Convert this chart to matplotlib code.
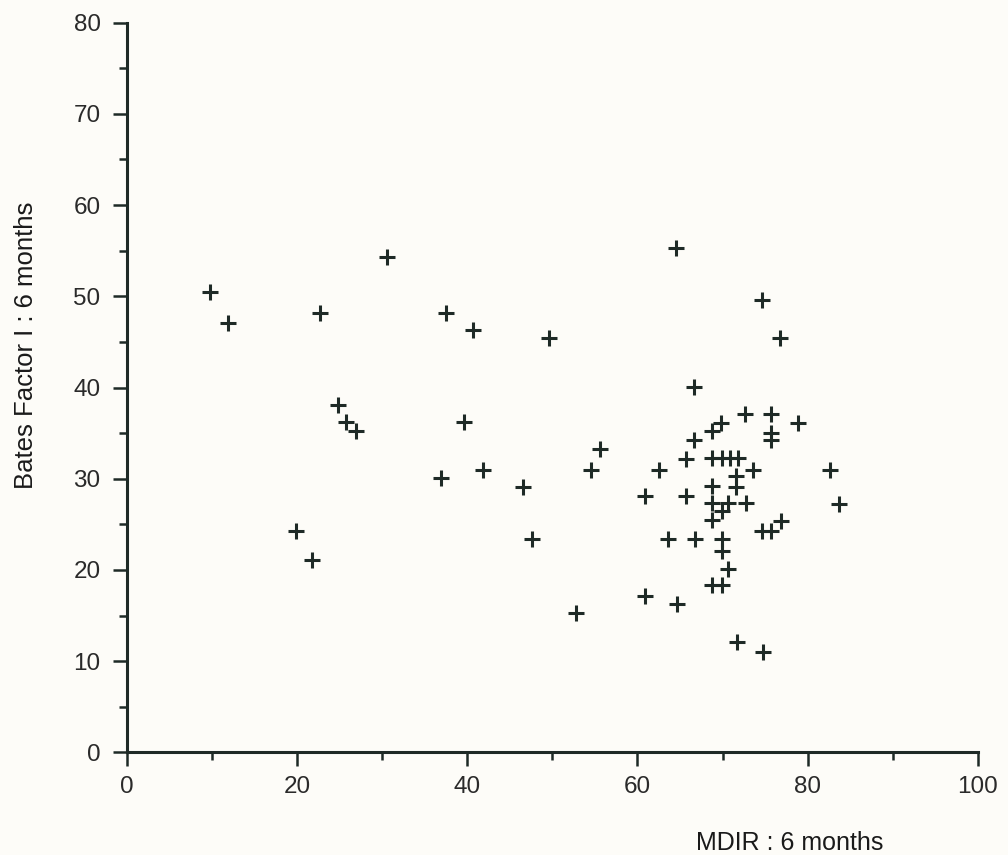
import matplotlib
matplotlib.use("Agg")
import matplotlib.pyplot as plt
from matplotlib.ticker import MultipleLocator

mdir = [9.8, 11.9, 22.7, 30.6, 37.5, 40.7, 49.6, 24.8, 25.7, 26.9,
        39.6, 55.6, 54.5, 41.8, 36.9, 46.6, 19.9, 21.8, 47.6, 52.8,
        64.5, 74.6, 76.7, 66.7, 72.6, 75.7, 78.9, 69.8, 68.8, 75.7,
        75.7, 66.7, 65.7, 68.8, 69.9, 70.9, 71.8, 62.5, 73.6, 82.6,
        71.6, 71.6, 68.8, 60.9, 65.7, 68.8, 70.7, 72.7, 83.7, 69.9,
        68.8, 74.6, 75.7, 76.9, 63.6, 66.8, 69.9, 69.9, 70.6, 68.8,
        69.9, 60.9, 64.7, 71.7, 74.8]
bates = [50.5, 47.1, 48.2, 54.3, 48.2, 46.3, 45.4, 38.1, 36.2, 35.2,
         36.2, 33.3, 31.0, 31.0, 30.1, 29.1, 24.3, 21.1, 23.4, 15.3,
         55.3, 49.6, 45.4, 40.1, 37.1, 37.1, 36.1, 36.1, 35.2, 35.0,
         34.3, 34.2, 32.2, 32.3, 32.3, 32.3, 32.3, 31.0, 31.0, 31.0,
         30.3, 29.1, 29.2, 28.1, 28.1, 27.3, 27.3, 27.3, 27.2, 26.5,
         25.5, 24.3, 24.3, 25.4, 23.4, 23.4, 23.4, 22.1, 20.1, 18.3,
         18.3, 17.2, 16.3, 12.1, 11.0]

xticks = [0, 20, 40, 60, 80, 100]
yticks = [0, 10, 20, 30, 40, 50, 60, 70, 80]

ink = "#1e2a26"
bg = "#fdfcf8"

plt.rcParams['font.family'] = ['Liberation Sans', 'DejaVu Sans']

fig = plt.figure(figsize=(10.08, 8.55), dpi=100, facecolor=bg)
ax = fig.add_axes([0.126, 0.120, 0.844, 0.8535])
ax.set_facecolor(bg)

ax.plot(mdir, bates, linestyle='none', marker='+', markersize=11.5,
        markeredgewidth=2.2, color=ink, clip_on=False)

ax.set_xlim(0, 100)
ax.set_ylim(0, 80)
ax.set_xticks(xticks)
ax.set_yticks(yticks)
ax.xaxis.set_minor_locator(MultipleLocator(10))
ax.yaxis.set_minor_locator(MultipleLocator(5))

for s in ['top', 'right']:
    ax.spines[s].set_visible(False)
for s in ['left', 'bottom']:
    ax.spines[s].set_linewidth(2.2)
    ax.spines[s].set_color(ink)

ax.tick_params(axis='both', which='major', direction='out', length=10,
               width=1.8, color=ink, labelsize=17.5, labelcolor="#2a2a2a")
ax.tick_params(axis='both', which='minor', direction='out', length=6,
               width=1.8, color=ink)
ax.tick_params(axis='x', which='major', pad=7)
ax.tick_params(axis='y', which='major', pad=9)

ax.set_xlabel("MDIR : 6 months", fontsize=18, color="#1a1a1a", va='center')
ax.set_ylabel("Bates Factor I : 6 months", fontsize=18.5, color="#1a1a1a")
ax.xaxis.set_label_coords(0.779, -0.1243)
ax.yaxis.set_label_coords(-0.105, 0.558)

fig.savefig("out.png", dpi=100, facecolor=bg)
